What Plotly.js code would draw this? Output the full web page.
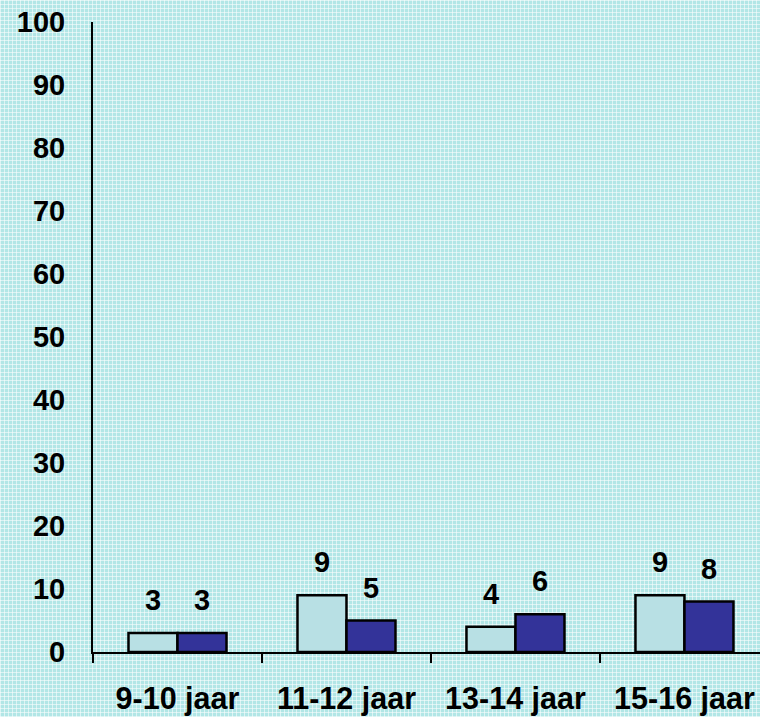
<!DOCTYPE html>
<html>
<head>
<meta charset="utf-8">
<script src="https://cdn.plot.ly/plotly-3.0.1.min.js"></script>
<style>
html,body{margin:0;padding:0;}
body{
  width:760px;height:717px;overflow:hidden;
  background-color:#b2e6e6;
  background-image:
    repeating-linear-gradient(0deg, rgba(255,255,255,0.55) 0px, rgba(255,255,255,0.55) 1px, transparent 1px, transparent 4px),
    repeating-linear-gradient(90deg, rgba(255,255,255,0.55) 0px, rgba(255,255,255,0.55) 1px, transparent 1px, transparent 4px);
}
#chart{width:760px;height:717px;}
</style>
</head>
<body>
<div id="chart"></div>
<script>
var categories = ["9-10 jaar", "11-12 jaar", "13-14 jaar", "15-16 jaar"];
var series1 = [3, 9, 4, 9];
var series2 = [3, 5, 6, 8];
var yTicks = [0, 10, 20, 30, 40, 50, 60, 70, 80, 90, 100];

var fontFam = "Liberation Sans, Arial, sans-serif";
var fsize = 29;

var traces = [
  {type: "bar", x: categories, y: series1, name: "A",
   marker: {color: "#b8e0e4", line: {color: "#000", width: 2.5}}, hoverinfo: "none"},
  {type: "bar", x: categories, y: series2, name: "B",
   marker: {color: "#333399", line: {color: "#000", width: 2.5}}, hoverinfo: "none"}
];

var half = 0.145;
var annotations = [];
categories.forEach(function(c, i){
  annotations.push({x: i - half, y: series1[i], xref: "x", yref: "y", text: String(series1[i]),
    showarrow: false, yanchor: "bottom", yshift: 15, font: {family: fontFam, size: fsize, color: "#000", weight: "bold"}});
  annotations.push({x: i + half, y: series2[i], xref: "x", yref: "y", text: String(series2[i]),
    showarrow: false, yanchor: "bottom", yshift: 15, font: {family: fontFam, size: fsize, color: "#000", weight: "bold"}});
});

var layout = {
  width: 760, height: 717,
  margin: {l: 93, r: 0, t: 22, b: 65, pad: 0},
  paper_bgcolor: "rgba(0,0,0,0)",
  plot_bgcolor: "rgba(0,0,0,0)",
  showlegend: false,
  barmode: "group",
  bargap: 0.42,
  bargroupgap: 0,
  xaxis: {
    type: "category",
    range: [-0.5, 3.447],
    showline: true, linecolor: "#000", linewidth: 2,
    showgrid: false, zeroline: false,
    ticks: "outside", tickson: "boundaries", ticklen: 9, tickwidth: 2, tickcolor: "#000",
    ticklabelstandoff: 18,
    tickfont: {family: fontFam, size: 30.5, color: "#000", weight: "bold"}
  },
  yaxis: {
    range: [0, 100],
    tickvals: yTicks,
    ticktext: yTicks.map(String),
    showline: true, linecolor: "#000", linewidth: 2,
    showgrid: false, zeroline: false,
    ticks: "",
    ticklabelstandoff: 20,
    tickfont: {family: fontFam, size: fsize, color: "#000", weight: "bold"}
  },
  annotations: annotations
};

Plotly.newPlot("chart", traces, layout, {displayModeBar: false, staticPlot: true});
</script>
</body>
</html>
